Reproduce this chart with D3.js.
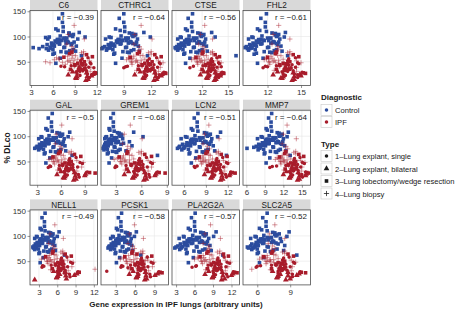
<!DOCTYPE html>
<html><head><meta charset="utf-8">
<script src="https://cdn.jsdelivr.net/npm/d3@7"></script>
<style>body{margin:0;background:#fff}svg{display:block;font-family:"Liberation Sans",Arial,sans-serif}</style>
</head><body><svg id="c" width="461" height="309"></svg>
<script>
const genes = ["C6","CTHRC1","CTSE","FHL2","GAL","GREM1","LCN2","MMP7","NELL1","PCSK1","PLA2G2A","SLC2A5"];
const rValues = [-0.39,-0.64,-0.56,-0.61,-0.5,-0.68,-0.51,-0.64,-0.49,-0.58,-0.57,-0.52];
const xTicks = [[3,6,9,12],[9,12],[9,12,15],[12,15],[3,6,9],[3,6,9],[6,9,12],[6,9,12,15],[3,6,9,12],[3,6,9],[3,6,9,12],[6,9]];
const xDomains = [[2.86,12.1],[6.5,13.9],[8.54,16.3],[9.8,15.85],[2.1,10.6],[1.25,9.2],[4.35,13.6],[5.45,16.4],[1.53,12.6],[0.7,11.2],[2.34,13.3],[4.7,10.85]];
const yTicks = [50,100,150];
const diagnosticLabels = ["Control","IPF"];
const typeLabels = ["1\u2013Lung explant, single","2\u2013Lung explant, bilateral","3\u2013Lung lobectomy/wedge resection","4\u2013Lung biopsy"];

// % DLco per subject (shared by all genes)
const controlDLco = [136,78,83,107,47,92,74,99,86,69, 95,81,145,89,76,112,97,84,65,93, 79,103,87,71,90,119,82,100,57,94, 88,73,108,85,96,77,102,91,68,80, 128,89,74,97,84,106,62,93,79,87, 115,99,70,83,94,86,76,101,90,67, 81,110,95,72,88,104,78,92,85,98];
const ipfDLco = [55,32,104,46,50,24,42,65,35,58, 30,48,40,53,17,38,85,45,26,56, 31,69,43,49,21,36,62,28,52,33, 95,41,13,47,60,23,54,39,72,44, 35,57,19,49,64,30,51,25,122,37, 43,59,32,80,46,20,53,27,68,40, 34,56,15,45,50,29,63,36,41,24, 75,48,33,58,26,39,66,44,18,52, 31,70,38,47,22,61,35,55,28,42];
const ipfType = [4,1,4,3,4,1,1,4,3,1, 2,4,1,4,2,1,4,3,1,4, 4,3,1,4,2,1,4,3,1,4, 4,1,2,4,3,1,4,1,4,3, 2,4,1,4,3,1,4,2,4,1, 4,3,1,4,1,2,4,3,4,1, 4,1,2,4,3,1,4,1,4,2, 4,1,3,4,1,4,3,1,2,4, 1,4,1,3,2,4,1,4,2,1];

// gene expression, control subjects
const C6_ctl = [6.8,7.5,5.9,8.2,6.4,7.1,8.8,5.5,6.9,7.8, 9.4,6.2,7.3,8.0,5.1,6.7,7.9,8.5,6.0,7.2, 7.6,8.3,5.8,9.1,6.5,7.4,6.1,8.7,7.0,6.6, 8.1,5.4,9.6,6.9,7.7,5.7,8.4,6.3,7.9,4.6, 7.3,8.9,6.0,7.5,5.2,8.2,9.9,6.8,5.6,7.8, 6.4,10.4,7.1,5.9,6.7,8.6,4.1,7.0,8.0,6.2, 9.2,7.4,5.3,8.3,6.6,8.8,3.3,7.7,6.1,5.0];
const CTHRC1_ctl = [8.5,9.2,7.8,9.6,8.1,8.9,10.1,7.4,8.7,9.4, 10.5,8.0,9.0,9.8,7.2,8.6,9.5,10.3,7.9,8.8, 9.3,9.9,7.6,10.7,8.3,9.1,7.7,10.0,8.8,8.4, 9.7,7.1,11.2,8.6,9.4,7.5,10.2,8.2,9.6,6.9, 9.0,10.4,7.8,9.2,7.3,9.9,11.6,8.5,7.4,9.5, 8.1,11.9,8.9,7.7,8.4,10.0,6.6,8.7,9.7,8.0, 10.6,9.1,7.0,9.8,8.3,10.3,6.7,9.3,7.9,7.6];
const CTSE_ctl = [10.4,11.0,9.8,11.5,10.1,10.7,12.0,9.5,10.5,11.3, 12.4,10.0,10.9,11.7,9.3,10.3,11.4,12.2,9.9,10.6, 11.1,11.8,9.6,12.6,10.2,10.8,9.7,11.9,10.6,10.2, 11.6,9.2,13.1,10.4,11.2,9.4,12.1,10.0,11.5,9.1, 10.8,12.3,9.8,11.0,9.3,11.8,15.9,10.3,9.5,11.4, 10.1,13.5,10.7,9.7,10.4,11.9,9.0,10.5,11.6,10.0, 12.5,10.9,9.2,11.7,10.2,12.2,8.9,11.1,9.9,9.6];
const FHL2_ctl = [11.4,12.0,10.9,12.4,11.1,11.7,12.8,10.6,11.5,12.2, 13.1,11.0,11.9,12.6,10.4,11.3,12.3,12.9,10.8,11.6, 12.1,12.7,10.7,13.3,11.2,11.8,10.5,12.8,11.6,11.2, 12.5,10.3,13.6,11.4,12.2,10.6,12.9,11.0,12.4,10.1, 11.8,13.0,10.9,12.0,10.4,12.7,13.8,11.3,10.6,12.3, 11.1,13.5,11.7,10.8,11.4,12.8,10.2,11.5,12.5,11.0, 13.2,11.9,10.3,12.6,11.2,13.0,10.0,12.1,10.9,10.7];
const GAL_ctl = [4.4,5.0,3.8,5.5,4.1,4.7,6.0,3.5,4.5,5.3, 6.4,4.0,4.9,5.7,3.3,4.3,5.4,6.2,3.9,4.6, 5.1,5.8,3.6,6.6,4.2,4.8,3.7,5.9,4.6,4.2, 5.6,3.2,7.1,4.4,5.2,3.4,6.1,4.0,5.5,3.0, 4.8,6.3,3.8,5.0,3.3,5.8,7.4,4.3,3.5,5.4, 4.1,6.9,4.7,3.7,4.4,5.9,2.7,4.5,5.6,4.0, 6.5,4.9,3.2,5.7,4.2,6.2,2.9,5.1,3.9,3.6];
const GREM1_ctl = [2.4,2.9,2.0,3.2,2.2,2.6,3.5,1.9,2.5,3.0, 3.8,2.1,2.7,3.3,1.7,2.3,3.1,3.6,2.0,2.6, 2.8,3.4,1.8,4.2,2.3,2.7,1.9,3.5,2.5,2.2, 3.2,1.6,5.1,2.4,2.9,1.8,3.7,2.1,3.1,1.6, 2.7,4.6,2.0,2.8,1.7,3.4,7.9,2.3,1.9,3.0, 2.2,6.2,2.6,1.9,2.4,3.9,1.5,2.5,3.2,2.1, 4.9,2.8,1.7,3.3,2.3,3.6,1.6,2.9,2.0,1.8];
const LCN2_ctl = [7.4,8.2,6.6,8.8,7.0,7.7,9.3,6.2,7.5,8.5, 9.8,6.9,7.9,9.0,5.9,7.2,8.6,9.5,6.7,7.6, 8.1,9.1,6.4,10.2,7.1,7.8,6.5,9.2,7.6,7.0, 8.9,5.7,11.0,7.4,8.3,6.0,9.4,6.9,8.7,5.4, 7.8,9.7,6.6,8.1,5.8,9.1,11.8,7.2,6.1,8.6, 7.0,10.6,7.7,6.3,7.3,9.3,5.1,7.5,8.8,6.8, 10.0,7.9,5.6,9.0,7.1,9.6,5.3,8.2,6.7,6.4];
const MMP7_ctl = [9.6,10.4,8.8,11.0,9.2,9.9,11.5,8.4,9.7,10.7, 12.0,9.1,10.1,11.2,8.1,9.4,10.8,11.7,8.9,9.8, 10.3,11.3,8.6,12.4,9.3,10.0,8.7,11.4,9.8,9.2, 11.1,7.9,12.8,9.6,10.5,8.2,11.6,9.1,10.9,7.6, 10.0,11.9,8.8,10.3,8.0,11.3,13.1,9.4,8.3,10.8, 9.2,12.6,9.9,8.5,9.5,11.5,6.1,9.7,11.0,9.0, 12.2,10.1,7.8,11.2,9.3,11.8,7.2,10.4,8.9,8.6];
const NELL1_ctl = [3.5,4.1,2.9,4.6,3.2,3.8,5.1,2.6,3.6,4.4, 5.5,3.1,4.0,4.8,2.4,3.4,4.5,5.3,3.0,3.7, 4.2,4.9,2.7,5.7,3.3,3.9,2.8,5.0,3.7,3.3, 4.7,2.3,6.3,3.5,4.3,2.5,5.2,3.1,4.6,2.2, 3.9,5.4,2.9,4.1,2.4,4.9,7.2,3.4,2.6,4.5, 3.2,6.0,3.8,2.8,3.5,5.0,2.1,3.6,4.7,3.1, 5.6,4.0,2.3,4.8,3.3,5.3,2.0,4.2,3.0,2.7];
const PCSK1_ctl = [3.4,4.0,2.8,4.5,3.1,3.7,5.0,2.5,3.5,4.3, 5.4,3.0,3.9,4.7,2.3,3.3,4.4,5.2,2.9,3.6, 4.1,4.8,2.6,5.6,3.2,3.8,2.7,4.9,3.6,3.2, 4.6,2.2,6.2,3.4,4.2,2.4,5.1,3.0,4.5,2.0, 3.8,5.3,2.8,4.0,2.3,4.8,6.9,3.3,2.5,4.4, 3.1,5.9,3.7,2.7,3.4,4.9,1.8,3.5,4.6,3.0, 5.5,3.9,2.2,4.7,3.2,5.2,1.9,4.1,2.9,2.6];
const PLA2G2A_ctl = [5.5,6.4,4.6,7.0,5.0,5.9,7.7,4.2,5.7,6.7, 8.3,4.9,6.1,7.3,3.8,5.3,6.8,7.9,4.7,5.8, 6.3,7.4,4.3,8.7,5.1,6.0,4.4,7.6,5.8,5.1, 7.1,3.6,9.5,5.5,6.5,3.9,7.8,4.8,6.9,3.3, 6.0,8.1,4.6,6.3,3.7,7.4,10.6,5.3,4.0,6.8, 5.0,9.1,5.9,4.4,5.4,7.6,2.8,5.7,7.1,4.8, 8.5,6.1,3.5,7.3,5.1,7.9,3.0,6.4,4.7,4.3];
const SLC2A5_ctl = [6.5,7.0,6.0,7.4,6.2,6.7,7.8,5.8,6.6,7.2, 8.1,6.1,6.9,7.5,5.6,6.4,7.3,7.9,6.0,6.6, 6.9,7.6,5.9,8.4,6.3,6.8,5.8,7.7,6.6,6.3, 7.4,5.5,8.9,6.5,7.1,5.7,7.8,6.1,7.3,5.4, 6.8,8.2,6.0,6.9,5.5,7.6,9.6,6.4,5.8,7.3, 6.2,8.7,6.7,5.9,6.5,7.7,5.2,6.6,7.4,6.1, 8.5,6.9,5.4,7.5,6.3,8.0,5.1,7.0,6.0,5.9];

// gene expression, IPF subjects
const C6_ipf = [9.4,10.6,8.1,9.9,5.0,11.3,9.0,10.2,8.4,10.8, 8.7,5.6,9.6,8.9,9.2,10.4,7.9,10.1,9.3,6.8, 11.1,8.6,10.0,7.3,10.7,9.5,9.1,11.8,9.8,8.3, 10.3,7.1,10.5,8.8,11.4,9.7,6.2,10.9,8.5,9.0, 10.2,8.6,11.0,8.4,10.6,9.2,8.0,11.5,8.9,10.4, 9.4,7.5,10.1,8.6,11.2,9.3,8.2,11.9,9.9,7.6, 9.6,10.0,10.8,7.7,10.3,11.7,8.7,9.8,8.9,8.1, 8.8,11.1,9.5,6.5,10.7,11.2,8.3,10.5,9.1,11.0, 9.7,10.2,11.6,9.4,11.3,8.0,9.9,6.9,10.6,8.5];
const CTHRC1_ipf = [11.3,12.4,10.2,11.7,9.8,12.9,11.0,12.0,10.6,12.6, 10.8,13.3,11.5,10.9,11.2,12.2,10.1,11.9,11.3,9.6, 12.8,10.7,11.8,9.9,12.5,11.4,11.1,13.5,11.6,10.4, 12.1,9.4,12.3,10.9,13.1,11.5,9.3,12.7,10.6,11.0, 12.0,10.0,12.8,10.5,12.4,11.2,10.3,13.2,10.9,12.2, 11.4,9.7,11.9,10.7,13.0,11.3,10.4,13.6,11.7,9.2, 11.5,11.8,12.6,9.9,12.1,13.4,10.8,11.6,11.0,10.2, 10.9,12.9,11.4,9.5,12.5,13.0,10.5,12.3,11.1,12.8, 11.6,12.0,9.0,11.3,13.1,10.1,11.7,9.8,12.4,10.6];
const CTSE_ipf = [12.7,13.5,11.8,12.9,11.4,13.9,12.4,13.2,12.0,13.7, 12.2,14.2,12.8,12.3,12.6,13.3,11.6,13.0,12.7,11.2, 13.8,12.1,13.1,11.5,13.6,12.8,12.5,14.4,13.0,11.9, 13.2,11.0,13.4,12.3,14.0,12.9,10.8,13.7,12.0,12.4, 13.1,11.7,13.9,12.0,13.5,12.6,11.8,14.1,12.3,13.3, 12.8,11.3,13.0,12.1,14.0,12.7,11.9,14.5,13.0,14.2, 12.9,13.1,13.6,11.5,13.2,14.3,12.2,12.9,12.4,11.8, 12.3,13.9,12.8,11.1,13.6,13.9,12.0,13.4,12.5,13.8, 13.0,13.2,10.6,12.7,14.1,11.6,13.0,11.4,13.5,12.1];
const FHL2_ipf = [13.4,14.3,12.5,13.7,12.1,14.7,13.1,14.0,12.8,14.5, 12.9,15.0,13.6,13.0,13.3,14.1,12.4,13.8,13.4,11.9, 14.6,12.8,13.9,12.2,14.4,13.5,13.2,15.2,13.8,12.6, 14.0,11.8,14.2,13.0,14.8,13.6,11.7,14.5,12.8,13.1, 13.9,12.4,14.7,12.7,14.3,13.3,12.5,14.9,13.0,14.1, 13.5,12.0,13.8,12.9,14.8,13.4,12.6,15.4,13.8,12.0, 13.6,13.9,14.4,12.2,14.0,15.1,12.9,13.7,13.1,12.5, 13.0,14.7,13.5,11.9,14.4,14.6,12.7,14.2,13.2,14.6, 13.8,14.0,11.6,13.4,15.0,12.3,13.8,12.1,14.3,12.8];
const GAL_ipf = [6.5,7.6,5.4,6.9,5.0,8.2,6.2,7.3,5.8,7.9, 6.0,8.8,6.7,6.1,6.4,7.5,5.3,7.1,6.5,4.8, 8.0,5.9,7.2,5.1,7.8,6.6,6.3,9.6,7.0,5.6, 7.4,4.6,7.6,6.1,8.5,6.8,4.5,8.1,5.8,6.2, 7.2,5.3,8.3,5.7,7.7,6.4,5.5,9.1,6.1,7.4, 6.6,5.0,7.0,5.9,8.7,6.5,5.6,10.3,7.0,4.7, 6.8,7.1,7.9,5.2,7.3,9.3,6.0,6.9,6.2,5.5, 6.1,8.4,6.6,4.9,7.8,8.6,5.7,7.5,6.3,8.0, 6.9,7.3,4.4,6.5,9.0,5.4,7.0,5.1,7.7,5.8];
const GREM1_ipf = [5.1,6.3,4.0,5.6,3.5,6.9,4.8,6.0,4.3,6.6, 4.5,7.4,5.4,4.6,5.0,6.2,3.8,5.8,5.2,3.2, 6.8,4.4,5.9,3.6,6.5,5.3,4.9,8.1,5.7,4.1, 6.1,3.0,6.3,4.6,7.2,5.5,2.8,6.7,4.3,4.8, 5.9,3.8,7.0,4.2,6.4,5.1,4.0,7.7,4.7,6.1, 5.3,3.4,5.7,4.4,7.3,5.2,4.1,8.8,5.7,3.1, 5.5,5.8,6.6,3.7,6.0,7.9,4.6,5.6,4.9,4.0, 4.7,7.1,5.3,3.3,6.5,7.2,4.3,6.2,5.0,6.8, 5.6,6.0,2.9,5.2,7.6,3.9,5.7,3.6,6.4,4.2];
const LCN2_ipf = [9.9,11.0,8.8,10.3,8.3,11.7,9.6,10.7,9.1,11.3, 9.3,12.1,10.1,9.4,9.7,10.9,8.6,10.5,9.9,8.0, 11.5,9.2,10.6,8.5,11.2,10.0,9.6,12.6,10.4,8.9, 10.8,7.8,11.0,9.4,11.9,10.2,7.6,11.4,9.1,9.6, 10.6,8.6,11.8,9.0,11.1,9.8,8.7,12.3,9.4,10.8, 10.0,8.1,10.4,9.2,12.0,9.9,8.9,13.0,10.4,7.4, 10.1,10.5,11.3,8.4,10.7,12.4,9.4,10.2,9.6,8.8, 9.5,11.8,10.0,8.0,11.2,11.6,9.0,11.0,9.7,11.4, 10.3,10.7,7.5,9.9,12.2,8.6,10.4,8.2,11.1,9.2];
const MMP7_ipf = [13.2,14.4,12.0,13.6,11.5,15.0,12.8,14.0,12.3,14.7, 12.5,15.5,13.4,12.6,13.0,14.2,11.8,13.8,13.2,11.2, 14.9,12.4,13.9,11.6,14.6,13.3,12.9,15.8,13.7,12.1, 14.1,10.9,14.3,12.6,15.3,13.5,10.7,14.8,12.3,12.8, 13.9,11.8,15.1,12.2,14.5,13.0,12.0,15.7,12.6,14.1, 13.3,11.4,13.7,12.4,15.4,13.2,12.1,16.1,13.7,10.2, 13.4,13.8,14.6,11.6,14.0,15.6,12.6,13.5,12.9,12.0, 12.7,15.1,13.3,11.0,14.5,15.0,12.2,14.3,13.0,14.8, 13.6,14.0,9.8,13.2,15.6,11.8,13.7,11.4,14.4,12.4];
const NELL1_ipf = [6.0,7.3,4.8,6.4,4.3,8.0,5.7,6.9,5.2,7.6, 5.4,8.6,6.2,5.5,5.9,7.1,4.6,6.7,6.1,3.9, 7.8,5.3,6.8,4.4,7.4,6.2,5.8,9.6,6.6,4.9, 7.0,3.6,2.3,5.5,8.3,6.3,3.4,7.7,5.2,5.7, 6.8,4.6,8.1,5.1,7.3,6.0,4.8,9.2,5.6,7.0, 6.2,4.1,6.6,5.3,8.5,6.1,4.9,7.2,6.6,3.8, 12.2,6.7,7.5,4.5,6.9,9.4,5.5,6.5,5.8,6.4, 5.6,8.2,6.2,3.9,7.4,8.4,5.2,7.1,5.9,7.7, 6.5,6.9,3.5,6.1,8.8,4.7,6.6,4.3,7.3,5.0];
const PCSK1_ipf = [6.3,7.6,5.1,6.7,4.6,8.3,6.0,7.2,5.5,7.9, 5.7,8.9,6.5,5.8,6.2,7.4,4.9,7.0,6.4,4.2, 8.1,5.6,7.1,4.7,7.7,6.5,6.1,9.9,6.9,5.2, 7.3,3.9,7.5,5.8,8.6,6.6,3.7,8.0,5.5,6.0, 7.1,7.9,8.4,5.4,6.3,1.6,7.6,9.5,5.9,4.9, 6.5,4.4,6.9,5.6,8.8,6.4,5.2,10.2,6.9,4.1, 6.7,7.0,7.8,4.8,7.2,9.7,5.8,6.8,6.1,5.1, 5.9,8.5,6.5,4.2,7.7,8.7,5.5,7.4,6.2,8.0, 6.8,7.2,3.8,6.4,9.1,5.0,6.9,4.6,7.6,5.3];
const PLA2G2A_ipf = [9.0,10.4,7.7,9.5,7.1,11.2,8.7,10.1,8.1,10.8, 8.3,11.8,9.3,8.4,8.9,10.3,7.4,9.8,9.1,6.6, 11.0,8.2,9.9,7.2,10.6,9.2,8.8,12.5,9.7,7.8, 10.2,6.3,10.4,8.6,11.5,9.4,6.0,11.1,8.1,8.7, 9.9,7.5,11.4,8.0,10.7,9.0,7.6,12.2,8.6,10.2, 9.2,6.9,9.7,8.3,11.7,9.1,7.8,12.9,9.7,6.2, 9.4,9.8,10.9,7.3,10.0,12.3,8.5,9.5,8.8,7.7, 8.4,11.3,9.2,6.5,10.6,11.4,8.0,10.3,8.9,11.0, 9.6,10.1,5.6,9.1,12.0,7.4,9.7,7.0,10.5,8.2];
const SLC2A5_ipf = [7.9,8.7,7.1,8.2,6.8,9.2,7.7,8.5,7.3,8.9, 7.4,9.5,8.1,7.5,7.8,8.6,7.0,8.3,7.9,6.5, 9.1,7.4,8.4,6.9,8.8,8.0,7.7,10.0,8.3,7.2, 8.5,6.3,8.6,7.5,9.3,8.1,6.2,9.0,7.3,7.7, 8.4,6.9,9.2,7.2,8.8,7.9,7.1,9.8,7.6,8.5, 8.0,6.6,8.3,7.4,9.4,7.9,7.2,10.4,8.3,6.0, 5.5,8.4,9.0,6.8,8.5,9.9,7.5,8.2,7.8,8.1, 7.6,9.3,8.0,6.4,8.8,9.2,7.3,8.6,7.8,9.1, 8.2,8.5,5.9,7.9,9.6,6.9,8.3,6.7,8.8,7.3];

const exprControl = [C6_ctl,CTHRC1_ctl,CTSE_ctl,FHL2_ctl,GAL_ctl,GREM1_ctl,LCN2_ctl,MMP7_ctl,NELL1_ctl,PCSK1_ctl,PLA2G2A_ctl,SLC2A5_ctl];
const exprIPF = [C6_ipf,CTHRC1_ipf,CTSE_ipf,FHL2_ipf,GAL_ipf,GREM1_ipf,LCN2_ipf,MMP7_ipf,NELL1_ipf,PCSK1_ipf,PLA2G2A_ipf,SLC2A5_ipf];

// ---------- drawing ----------
const svg = d3.select("#c");
const colCtl = "#2b4c9e", colIPF = "#a81c2b";
const panelW = 67.5, panelH = 75, stripH = 10.5;
const colX = i => 30 + i * 71;
const rowY = j => j * 99.7;
const yDom = [3, 151.5];

const symGen = {
  1: d3.symbol().type(d3.symbolCircle).size(10),
  2: d3.symbol().type(d3.symbolTriangle).size(14),
  3: d3.symbol().type(d3.symbolSquare).size(13)
};
function drawPoint(g, x, y, type, color, alpha) {
  if (type === 4) {
    g.append("path").attr("d", `M${x-2.6},${y}H${x+2.6}M${x},${y-2.6}V${y+2.6}`)
      .attr("stroke", color).attr("stroke-width", 0.75).attr("fill", "none").attr("opacity", alpha);
  } else {
    g.append("path").attr("d", symGen[type]()).attr("transform", `translate(${x},${y})`)
      .attr("fill", color).attr("opacity", alpha);
  }
}

genes.forEach((gname, k) => {
  const ci = k % 4, ri = Math.floor(k / 4);
  const x0 = colX(ci), top = rowY(ri) + stripH;
  const g = svg.append("g");
  g.append("rect").attr("x", x0).attr("y", rowY(ri)).attr("width", panelW).attr("height", stripH).attr("fill", "#d9d9d9");
  g.append("text").attr("x", x0 + panelW / 2).attr("y", rowY(ri) + 8.3).attr("text-anchor", "middle")
    .attr("font-size", 8.2).attr("fill", "#1a1a1a").text(gname);
  const xs = d3.scaleLinear().domain(xDomains[k]).range([x0, x0 + panelW]);
  const ys = d3.scaleLinear().domain(yDom).range([top + panelH, top]);
  g.append("rect").attr("x", x0).attr("y", top).attr("width", panelW).attr("height", panelH).attr("fill", "#fff");
  const grid = g.append("g");
  xTicks[k].forEach(t => grid.append("line").attr("x1", xs(t)).attr("x2", xs(t)).attr("y1", top).attr("y2", top + panelH)
    .attr("stroke", "#e6e6e6").attr("stroke-width", 0.6));
  yTicks.forEach(t => grid.append("line").attr("x1", x0).attr("x2", x0 + panelW).attr("y1", ys(t)).attr("y2", ys(t))
    .attr("stroke", "#e6e6e6").attr("stroke-width", 0.6));
  const pts = g.append("g");
  exprControl[k].forEach((v, i) => drawPoint(pts, xs(v), ys(controlDLco[i]), 3, colCtl, 1));
  exprIPF[k].forEach((v, i) => drawPoint(pts, xs(v), ys(ipfDLco[i]), ipfType[i], colIPF, ipfType[i] === 4 ? 0.6 : 1));
  g.append("rect").attr("x", x0).attr("y", top).attr("width", panelW).attr("height", panelH)
    .attr("fill", "none").attr("stroke", "#4d4d4d").attr("stroke-width", 0.8);
  const xa = g.append("g").attr("transform", `translate(0,${top + panelH})`)
    .call(d3.axisBottom(xs).tickValues(xTicks[k]).tickSize(2.5).tickPadding(1.5).tickFormat(d3.format("d")));
  xa.select(".domain").remove();
  xa.selectAll("line").attr("stroke", "#4d4d4d").attr("stroke-width", 0.6);
  xa.selectAll("text").attr("font-size", 8).attr("fill", "#333").attr("font-family", null);
  if (ci === 0) {
    const ya = g.append("g").attr("transform", `translate(${x0},0)`)
      .call(d3.axisLeft(ys).tickValues(yTicks).tickSize(2.5).tickPadding(1.5));
    ya.select(".domain").remove();
    ya.selectAll("line").attr("stroke", "#4d4d4d").attr("stroke-width", 0.6);
    ya.selectAll("text").attr("font-size", 8).attr("fill", "#333").attr("font-family", null);
  }
  g.append("text").attr("x", x0 + panelW - 3.5).attr("y", top + 9.5).attr("text-anchor", "end")
    .attr("font-size", 8).attr("fill", "#1a1a1a").text("r = " + d3.format(".2~f")(rValues[k]).replace("-", "\u2212"));
});

svg.append("text").attr("x", 176).attr("y", 307).attr("text-anchor", "middle").attr("font-size", 8)
  .attr("font-weight", "bold").attr("fill", "#1a1a1a").text("Gene expression in IPF lungs (arbitrary units)");
svg.append("text").attr("transform", "translate(10,148) rotate(-90)").attr("text-anchor", "middle").attr("font-size", 8.5)
  .attr("font-weight", "bold").attr("fill", "#1a1a1a").text("% DLco");

const lg = svg.append("g");
lg.append("text").attr("x", 321).attr("y", 100).attr("font-size", 8).attr("font-weight", "bold").attr("fill", "#1a1a1a").text("Diagnostic");
diagnosticLabels.forEach((lab, i) => {
  const y = 104.5 + i * 12;
  lg.append("rect").attr("x", 321).attr("y", y).attr("width", 11).attr("height", 11).attr("fill", "#fff").attr("stroke", "#c8c8c8").attr("stroke-width", 0.6);
  lg.append("path").attr("d", symGen[1]()).attr("transform", `translate(326.5,${y + 5.5})`).attr("fill", i === 0 ? colCtl : colIPF);
  lg.append("text").attr("x", 335).attr("y", y + 8.5).attr("font-size", 7.6).attr("fill", "#1a1a1a").text(lab);
});
lg.append("text").attr("x", 321).attr("y", 147).attr("font-size", 8).attr("font-weight", "bold").attr("fill", "#1a1a1a").text("Type");
typeLabels.forEach((lab, i) => {
  const y = 150.5 + i * 12.5;
  lg.append("rect").attr("x", 321).attr("y", y).attr("width", 11).attr("height", 11).attr("fill", "#fff").attr("stroke", "#c8c8c8").attr("stroke-width", 0.6);
  drawPoint(lg, 326.5, y + 5.5, i + 1, "#1a1a1a", 1);
  lg.append("text").attr("x", 335).attr("y", y + 8.5).attr("font-size", 7.6).attr("fill", "#1a1a1a").text(lab);
});
</script></body></html>
